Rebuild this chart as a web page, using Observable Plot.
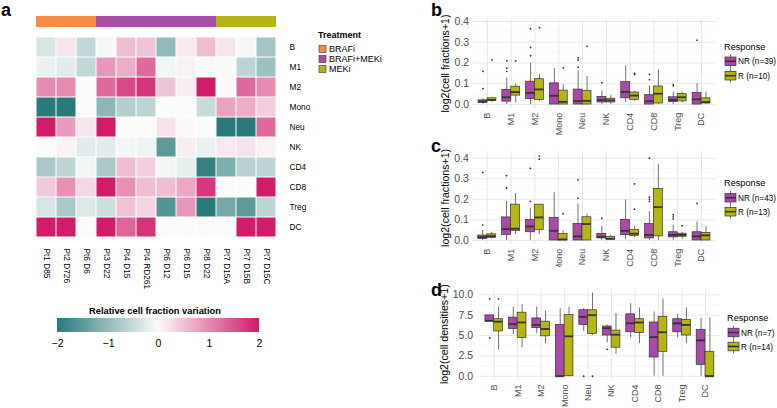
<!DOCTYPE html>
<html>
<head>
<meta charset="utf-8">
<script src="https://cdn.jsdelivr.net/npm/d3@7"></script>
<script src="https://cdn.jsdelivr.net/npm/@observablehq/plot@0.6"></script>
<style>
html,body{margin:0;padding:0;background:#fff;}
#fig{position:relative;width:777px;height:408px;overflow:hidden;background:#fff;font-family:"Liberation Sans",Arial,sans-serif;}
.panel{position:absolute;overflow:hidden;background:#fff;}
.panel svg{display:block;}
.bp g[aria-label="x-axis tick label"]{fill:#4d4d4d;font-size:9px;}
.bp g[aria-label="y-axis tick label"]{fill:#4d4d4d;font-size:10.5px;}
#cbar line{display:none;}
#overlay{position:absolute;left:0;top:0;pointer-events:none;}
</style>
</head>
<body>
<div id="fig"></div>
<script>
// ---------------- Panel a data ----------------
const samples = ["Pt1 D85","Pt2 D726","Pt6 D6","Pt3 D22","Pt4 D15","Pt4 RD261","Pt6 D12","Pt6 D15","Pt8 D22","Pt7 D15A","Pt7 D15B","Pt7 D15C"];
const sampleTreatment = ["BRAFi","BRAFi","BRAFi","BRAFi+MEKi","BRAFi+MEKi","BRAFi+MEKi","BRAFi+MEKi","BRAFi+MEKi","BRAFi+MEKi","MEKi","MEKi","MEKi"];
const treatmentLevels = ["BRAFi","BRAFi+MEKi","MEKi"];
const treatmentColors = ["#f58b45","#a94ca8","#b5b512"];
const cellRows = ["B","M1","M2","Mono","Neu","NK","CD4","CD8","Treg","DC"];
const varB    = [-0.35, 0.2, -0.55, -0.05, 0.55, 0.5, -1.0, 0.15, 0.55, 0.2, -0.05, -0.85];
const varM1   = [-0.15, -0.25, -0.55, 0.9, 0.7, 1.3, -0.1, 0.08, -0.03, -0.03, -0.6, -0.9];
const varM2   = [1.0, 1.0, 0, 1.3, 1.6, 1.8, 0.5, 0.12, 2.0, -0.03, 1.3, 1.0];
const varMono = [-2, -2, 0, -1.05, -0.7, -0.6, 0, 0, -0.5, 0.8, 0.7, 0.4];
const varNeu  = [2.0, 0.85, 0.2, 2.0, 0, 0, 0.22, 0.03, 0, -2, -2, 1.3];
const varNK   = [0, 0.08, -0.25, -0.25, -0.08, -0.12, -1.5, 0.12, -0.15, 0.18, 0.22, 0.08];
const varCD4  = [-0.8, -0.6, -0.1, -0.8, 0.55, 0.4, -0.08, -0.2, -1.9, -1.2, -0.65, -0.6];
const varCD8  = [0.45, 0.95, 0.32, 2.0, 0.95, 0.55, 0.55, 0.75, 1.75, 0, 0, 2.0];
const varTreg = [-0.35, -0.8, -0.3, -0.45, 0.5, 0.35, -1.6, 0.9, -2, -1.3, -1.5, -0.6];
const varDC   = [2, 2, 0, 2, 1.35, 1.8, 0, 0, 0, 0, 2, 2];
const variationRows = [varB, varM1, varM2, varMono, varNeu, varNK, varCD4, varCD8, varTreg, varDC];
const colorTicks = [-2, -1, 0, 1, 2];

// ---------------- Panels b-d data: [lower whisker, Q1, median, Q3, upper whisker] ----------------
const cellTypes = ["B","M1","M2","Mono","Neu","NK","CD4","CD8","Treg","DC"];
const responseGroups = ["NR","R"];
const responseColors = ["#a94aa9","#b5b514"];

const fracB_NR = [[0,0.008,0.015,0.02,0.03],[0,0.014,0.035,0.07,0.128],[0,0.027,0.056,0.11,0.2],[0,0,0.042,0.102,0.173],[0,0,0.017,0.072,0.16],[0,0.01,0.022,0.037,0.066],[0.01,0.03,0.061,0.108,0.186],[0,0,0.016,0.045,0.09],[0,0.012,0.022,0.035,0.06],[0,0,0.025,0.055,0.1]];
const fracB_R  = [[0.01,0.018,0.022,0.03,0.033],[0.008,0.043,0.06,0.086,0.098],[0.014,0.022,0.073,0.122,0.144],[0,0,0.013,0.067,0.095],[0,0,0.018,0.066,0.135],[0,0.01,0.02,0.028,0.045],[0.015,0.022,0.043,0.058,0.063],[0,0.005,0.052,0.087,0.166],[0.008,0.015,0.035,0.05,0.06],[0,0.005,0.012,0.03,0.06]];
const fracB_NR_out = [["B",0.16],["B",0.077],["M1",0.21],["M1",0.175],["M1",0.16],["M2",0.365],["M2",0.275],["M2",0.235],["Neu",0.225],["Neu",0.215],["Neu",0.18],["NK",0.105],["CD8",0.145],["CD8",0.12],["Treg",0.095],["Treg",0.09],["DC",0.31]];
const fracB_R_out  = [["B",0.215],["M1",0.21],["M2",0.37],["Mono",0.177],["Neu",0.28],["CD4",0.15],["CD4",0.145]];

const fracC_NR = [[0,0.008,0.016,0.024,0.05],[0,0.027,0.055,0.112,0.19],[0,0.04,0.068,0.1,0.155],[0,0,0.047,0.109,0.232],[0,0,0.02,0.08,0.177],[0,0.01,0.018,0.032,0.07],[0.005,0.026,0.047,0.1,0.197],[0,0.01,0.027,0.08,0.14],[0,0.015,0.027,0.04,0.075],[0,0,0.02,0.04,0.09]];
const fracC_R  = [[0.008,0.013,0.021,0.03,0.04],[0.03,0.045,0.057,0.174,0.228],[0.03,0.05,0.112,0.174,0.174],[0,0,0.005,0.031,0.047],[0,0,0.08,0.113,0.128],[0,0.005,0.008,0.017,0.025],[0.015,0.022,0.033,0.052,0.07],[0,0.02,0.162,0.25,0.37],[0.005,0.018,0.027,0.033,0.04],[0,0,0.025,0.037,0.068]];
const fracC_NR_out = [["B",0.33],["B",0.075],["M1",0.315],["M1",0.255],["M2",0.35],["M2",0.19],["Neu",0.295],["Neu",0.205],["NK",0.108],["CD8",0.4],["CD8",0.21],["CD8",0.2],["CD8",0.19],["Treg",0.125],["Treg",0.115],["Treg",0.105],["DC",0.18]];
const fracC_R_out  = [["M2",0.41],["M2",0.395],["Mono",0.13],["CD4",0.275],["CD4",0.152],["Treg",0.072]];

const densD_NR = [[6.73,6.73,6.8,7.47,7.47],[5.1,5.8,6.4,7.2,8.5],[5.2,5.9,6.3,7.1,8.5],[0,0,0,6.3,8.3],[5.5,6.3,7.3,8.1,8.3],[4.1,5.0,5.9,6.1,6.3],[4.7,5.4,6.5,7.6,8.9],[0,2.3,4.8,6.6,7.9],[4.7,5.4,6.5,7.0,7.6],[0,1.4,4.4,5.7,7.1]];
const densD_R  = [[3.2,5.5,6.7,7.0,8.5],[3.5,4.7,6.6,7.8,8.8],[4.0,4.9,5.8,6.7,8.0],[0,0,4.9,7.5,8.5],[5.0,5.2,7.5,8.1,10.2],[2.7,3.5,5.1,5.6,7.7],[4.0,5.3,6.6,7.0,8.4],[0,3.0,5.4,7.3,9.5],[4.0,5.0,6.3,6.9,8.4],[0,0,0,3.0,7.2]];
const densD_NR_out = [["B",9.5],["B",4.7],["Neu",0],["NK",3.3]];
const densD_R_out  = [["B",9.5],["Neu",0]];

const fracTicks = [0, 0.1, 0.2, 0.3, 0.4];
const fracMinor = [0.05, 0.15, 0.25, 0.35];
const densTicks = [0, 2.5, 5, 7.5, 10];
const densMinor = [1.25, 3.75, 6.25, 8.75];

// ---------------- helpers ----------------
const FONT = "Liberation Sans, Arial, sans-serif";
const fig = document.getElementById("fig");
function addPanel(node, left, top, width, height, cls, id) {
  const div = document.createElement("div");
  div.className = "panel " + (cls || "");
  if (id) div.id = id;
  Object.assign(div.style, {left: left + "px", top: top + "px", width: width + "px", height: height + "px"});
  div.appendChild(node);
  fig.appendChild(div);
}
const colorScale = {type: "linear", domain: [-2, 0, 2], range: ["#2b7a7b", "#fbfbfb", "#d01c6b"], interpolate: "rgb", clamp: true};

// ---------------- Panel a: heatmap ----------------
const heatData = cellRows.flatMap((row, i) => samples.map((s, j) => ({row, sample: s, value: variationRows[i][j]})));
const heat = Plot.plot({
  width: 310, height: 290, marginLeft: 35, marginRight: 33, marginTop: 36, marginBottom: 53,
  style: {fontFamily: FONT, fontSize: "8.3px", background: "white", color: "black"},
  x: {domain: samples, padding: 0, tickRotate: 90, tickSize: 0, tickPadding: 11, label: null},
  y: {domain: cellRows, padding: 0, axis: "right", tickSize: 0, tickPadding: 12, label: null},
  color: colorScale,
  marks: [Plot.cell(heatData, {x: "sample", y: "row", fill: "value", inset: 0.5})]
});
addPanel(heat, 0, 0, 310, 290);

const annot = Plot.plot({
  width: 310, height: 11, marginLeft: 35, marginRight: 33, marginTop: 0, marginBottom: 0,
  style: {background: "white"},
  x: {domain: samples, padding: 0, axis: null},
  color: {domain: treatmentLevels, range: treatmentColors},
  marks: [Plot.cell(samples.map((s, i) => ({s, t: sampleTreatment[i]})), {x: "s", fill: "t"})]
});
addPanel(annot, 0, 16, 310, 11);

const cbar = Plot.legend({
  color: colorScale, legend: "ramp", width: 222, height: 30,
  marginLeft: 10, marginRight: 10, marginTop: 0, marginBottom: 16,
  ticks: colorTicks, tickFormat: d3.format("d"), tickSize: 5, label: null,
  style: {fontFamily: FONT, fontSize: "10.5px", color: "black", background: "white"}
});
addPanel(cbar, 47, 318, 222, 32, "", "cbar");

// ---------------- Panels b-d: boxplots ----------------
const boxHalf = 0.1875;
function boxRows(stats, group) {
  const off = group === "NR" ? -boxHalf : boxHalf;
  return stats.map(([lo, q1, med, q3, hi], i) => ({cell: cellTypes[i], group, pos: i + 1 + off, lo, q1, med, q3, hi}));
}
function outRows(list, group) {
  const off = group === "NR" ? -boxHalf : boxHalf;
  return list.map(([cell, v]) => ({group, pos: cellTypes.indexOf(cell) + 1 + off, v}));
}
function boxPanel(o) {
  const rows = boxRows(o.nr, "NR").concat(boxRows(o.r, "R"));
  const outs = outRows(o.nrOut, "NR").concat(outRows(o.rOut, "R"));
  return Plot.plot({
    width: o.width, height: o.height,
    marginLeft: o.ml, marginRight: o.mr, marginTop: o.mt, marginBottom: o.mb,
    style: {fontFamily: FONT, fontSize: "9.5px", background: "white", color: "black"},
    x: {type: "linear", domain: [0.4, 10.6], ticks: d3.range(1, 11), tickFormat: (i) => cellTypes[i - 1], tickRotate: -90, tickSize: 0, tickPadding: 4, label: null},
    y: {domain: o.yDomain, ticks: o.ticks, tickFormat: d3.format(".1f"), tickSize: 0, tickPadding: o.tp, label: null},
    color: {domain: responseGroups, range: responseColors},
    marks: [
      Plot.ruleY(o.minor, {stroke: "#f1f1f1", strokeWidth: 0.6}),
      Plot.ruleY(o.ticks, {stroke: "#e7e7e7", strokeWidth: 1}),
      Plot.ruleX(d3.range(1, 11), {stroke: "#e7e7e7", strokeWidth: 1}),
      Plot.ruleX(rows, {x: "pos", y1: "lo", y2: "hi", stroke: "#333", strokeWidth: 0.7}),
      Plot.rect(rows, {x1: (d) => d.pos - boxHalf, x2: (d) => d.pos + boxHalf, y1: "q1", y2: "q3", fill: "group", stroke: "#333", strokeWidth: 0.7}),
      Plot.ruleY(rows, {y: "med", x1: (d) => d.pos - boxHalf, x2: (d) => d.pos + boxHalf, stroke: "#333", strokeWidth: 1.8}),
      Plot.dot(outs, {x: "pos", y: "v", r: 0.9, fill: "#333", stroke: "none"})
    ]
  });
}
addPanel(boxPanel({nr: fracB_NR, r: fracB_R, nrOut: fracB_NR_out, rOut: fracB_R_out, yDomain: [-0.02, 0.41], ticks: fracTicks, minor: fracMinor,
  width: 300, height: 135, ml: 52.7, mr: 4.7, mt: 18.9, mb: 26.8, tp: 4}), 420, 0, 300, 135, "bp");
addPanel(boxPanel({nr: fracC_NR, r: fracC_R, nrOut: fracC_NR_out, rOut: fracC_R_out, yDomain: [-0.0205, 0.43], ticks: fracTicks, minor: fracMinor,
  width: 300, height: 132, ml: 52.4, mr: 4.7, mt: 16.5, mb: 22.8, tp: 4}), 420, 135, 300, 132, "bp");
addPanel(boxPanel({nr: densD_NR, r: densD_R, nrOut: densD_NR_out, rOut: densD_R_out, yDomain: [-0.51, 10.71], ticks: densTicks, minor: densMinor,
  width: 300, height: 141, ml: 59.6, mr: 0.9, mt: 21.5, mb: 28.1, tp: 7}), 420, 267, 300, 141, "bp");

// ---------------- overlay text: panel letters, axis titles and legends ----------------
const svg = d3.select(fig).append("svg").attr("id", "overlay").attr("width", 777).attr("height", 408)
  .style("font-family", FONT);
[["a", 1, 16], ["b", 431, 16], ["c", 431, 152], ["d", 431, 296]].forEach(([t, x, y]) =>
  svg.append("text").attr("x", x).attr("y", y).attr("font-size", 18).attr("font-weight", "bold").text(t));

// y-axis titles of the box panels (centred on each panel)
[["log2(cell fractions+1)", 448.5, 63.5], ["log2(cell fractions+1)", 448.5, 197.9], ["log2(cell densities+1)", 448, 334.2]].forEach(([t, x, y]) =>
  svg.append("text").attr("transform", `translate(${x},${y}) rotate(-90)`).attr("text-anchor", "middle")
    .attr("font-size", 10.6).text(t));

// Treatment legend
svg.append("text").attr("x", 318).attr("y", 38).attr("font-size", 9).attr("font-weight", "bold").text("Treatment");
treatmentLevels.forEach((t, i) => {
  const cy = 49 + i * 10;
  svg.append("rect").attr("x", 319).attr("y", cy - 3.5).attr("width", 7).attr("height", 7)
    .attr("fill", treatmentColors[i]).attr("stroke", "#333").attr("stroke-width", 0.6);
  svg.append("text").attr("x", 329).attr("y", cy + 3.2).attr("font-size", 9).text(t);
});
// colorbar title
svg.append("text").attr("x", 155).attr("y", 314).attr("text-anchor", "middle").attr("font-size", 9.3).attr("font-weight", "bold")
  .text("Relative cell fraction variation");

// Response legends
function responseLegend(x, titleY, keyYs, labels) {
  svg.append("text").attr("x", x).attr("y", titleY).attr("font-size", 9.2).text("Response");
  keyYs.forEach((cy, i) => {
    const kx = x + 1, kw = 11, cx = kx + kw / 2;
    svg.append("line").attr("x1", cx).attr("x2", cx).attr("y1", cy - 7).attr("y2", cy + 7).attr("stroke", "#333").attr("stroke-width", 0.7);
    svg.append("rect").attr("x", kx).attr("y", cy - 4.3).attr("width", kw).attr("height", 8.6)
      .attr("fill", responseColors[i]).attr("stroke", "#333").attr("stroke-width", 0.7);
    svg.append("line").attr("x1", kx).attr("x2", kx + kw).attr("y1", cy).attr("y2", cy).attr("stroke", "#333").attr("stroke-width", 1.6);
    svg.append("text").attr("x", kx + kw + 2).attr("y", cy + 3).attr("font-size", 8.2).text(labels[i]);
  });
}
responseLegend(724, 50, [61.3, 75.7], ["NR (n=39)", "R (n=10)"]);
responseLegend(724, 186, [197.7, 211.7], ["NR (n=43)", "R (n=13)"]);
responseLegend(727, 321, [332.5, 346.5], ["NR (n=7)", "R (n=14)"]);
</script>
</body>
</html>
